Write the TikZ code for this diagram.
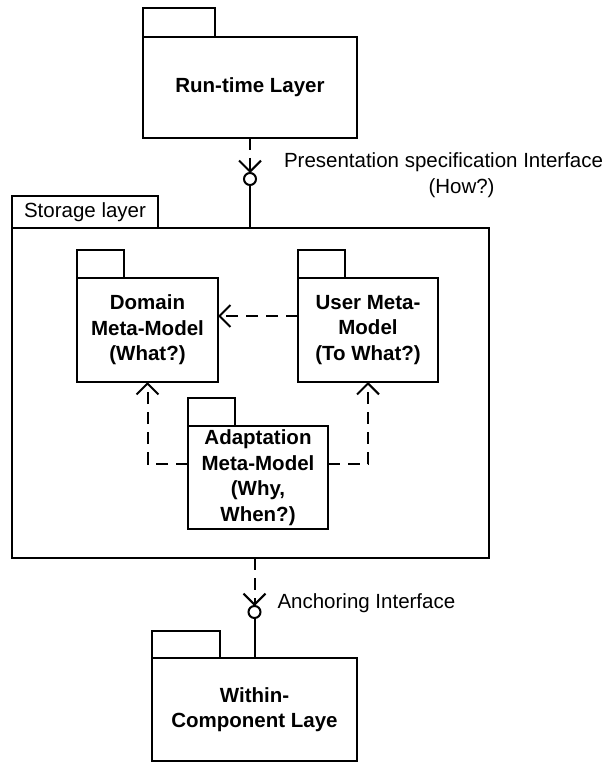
\documentclass[tikz,border=0pt]{standalone}
\usepackage{fontspec}
\setmainfont{Liberation Sans}
\usetikzlibrary{arrows.meta,positioning}

\begin{document}
\begin{tikzpicture}[x=1pt,y=-1pt,line width=2pt,
    pkg/.style={draw,rectangle,outer sep=0pt,inner sep=0pt,align=center,
      font=\fontsize{20.5}{25.5}\selectfont\bfseries},
    pkgtab/.style={draw,rectangle,outer sep=0pt,inner sep=0pt,anchor=south west,
      minimum width=47pt,minimum height=28pt},
    iface/.style={draw,circle,outer sep=0pt,inner sep=0pt,minimum size=12pt},
    lbl/.style={inner sep=2pt,align=center,font=\fontsize{20.5}{25.5}\selectfont},
    dep/.style={dash pattern=on 12pt off 8pt,-{Straight Barb[length=11pt,width=22pt]}}]
    \useasboundingbox (0,0) rectangle (609,762);

    % top layer
    \node[pkg,minimum width=214pt,minimum height=101pt] (rt) at (250,87.5) {Run-time Layer};
    \node[pkgtab,minimum width=72pt,minimum height=29pt] (rttab) at (rt.north west) {};

    % storage layer
    \node[pkg,minimum width=477pt,minimum height=330pt] (sto) at (250.5,393) {};
    \node[pkgtab,minimum width=146pt,minimum height=32pt,
      font=\fontsize{20.5}{25.5}\selectfont] (stotab) at (sto.north west) {Storage layer};

    \node[pkg,minimum width=141pt,minimum height=104pt] (dm) at (147.5,330) {Domain\\Meta-Model\\(What?)};
    \node[pkgtab] (dmtab) at (dm.north west) {};
    \node[pkg,minimum width=140pt,minimum height=104pt] (um) at (368,330) {User Meta-\\Model\\(To What?)};
    \node[pkgtab] (umtab) at (um.north west) {};
    \node[pkg,minimum width=140pt,minimum height=103pt] (am) at (258,477.5) {Adaptation\\Meta-Model\\(Why,\\When?)};
    \node[pkgtab] (amtab) at (am.north west) {};

    \draw[dep] ([yshift=14pt]um.west) -- ([yshift=14pt]dm.east);
    \draw[dep] ([yshift=14pt]am.west) -| (dm.south);
    \draw[dep] ([yshift=14pt]am.east) -| (um.south);

    % bottom layer
    \node[pkg,minimum width=205pt,minimum height=103pt] (wc) at (254.5,709.5) {Within-\\Component Laye};
    \node[pkgtab,minimum width=68pt,minimum height=27pt] (wctab) at (wc.north west) {};

    % interfaces
    \node[iface] (iftop) at (250,179) {};
    \node[iface] (ifbot) at (254.5,612) {};
    \node[lbl,right=25pt of iftop,yshift=4pt] (iftoptxt) {Presentation specification Interface\\\hspace*{36pt}(How?)};
    \node[lbl,right=14pt of ifbot,yshift=9pt] (ifbottxt) {Anchoring Interface};

    \draw[dep] (rt.south) -- (iftop.north);
    \draw (iftop.south) -- (iftop.south |- sto.north);
    \draw[dep] (ifbot |- sto.south) -- (ifbot.north);
    \draw (ifbot.south) -- (wc.north);
\end{tikzpicture}
\end{document}
